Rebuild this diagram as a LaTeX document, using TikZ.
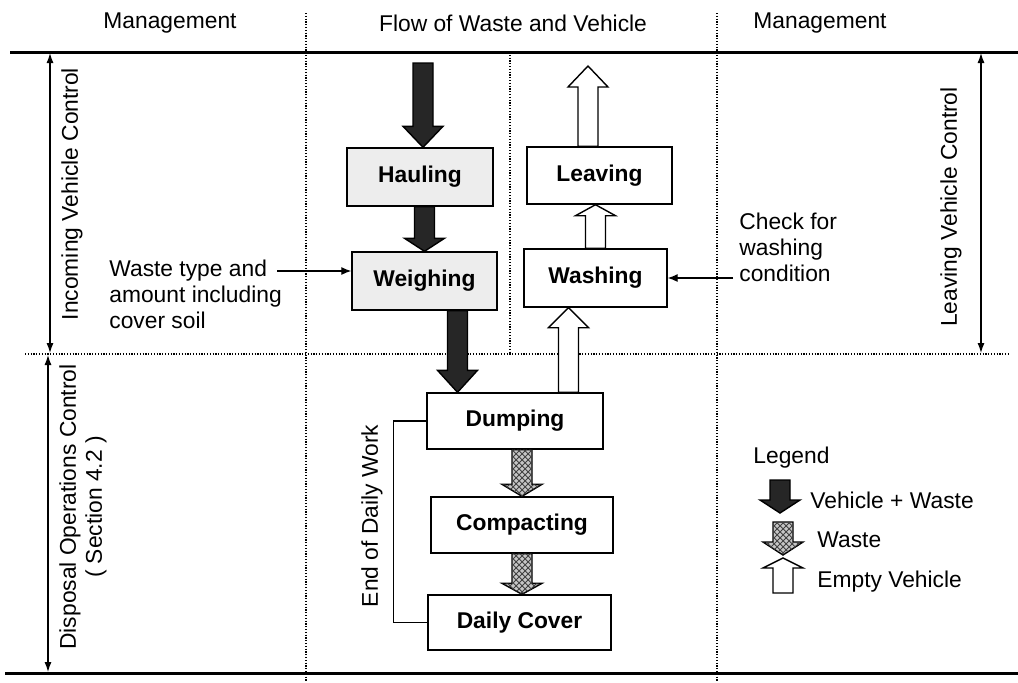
\documentclass[tikz,border=0pt]{standalone}
\usepackage{fontspec}
\setmainfont{Liberation Sans}
\usepackage{xcolor}
\usepackage{tikz}
\usetikzlibrary{arrows.meta,calc,patterns}

% block arrow: [style]{from}{to}{head length}
\newcommand\fatarrow[4][]{%
  \coordinate (fas) at (#2);
  \coordinate (fae) at (#3);
  \coordinate (fah) at ($(fae)!#4!(fas)$);
  \draw[#1] ($(fas)!5pt!90:(fae)$) -- ($(fah)!5pt!90:(fae)$)
    -- ($(fah)!10pt!90:(fae)$) -- (fae) -- ($(fah)!10pt!-90:(fae)$)
    -- ($(fah)!5pt!-90:(fae)$) -- ($(fas)!5pt!-90:(fae)$) -- cycle;
}

\begin{document}
\begin{tikzpicture}[
  x=0.5pt, y=-0.5pt,
  >=Latex,
  font=\fontsize{11.4}{13}\selectfont,
  box/.style={
    draw,
    line width=0.7pt,
    minimum width=72pt,
    minimum height=29pt,
    inner sep=2pt,
    font=\fontsize{11.4}{13}\selectfont\bfseries
  },
  greybox/.style={box, fill=gray!14},
  label/.style={inner sep=0pt, align=left},
  vehicle/.style={draw, line width=0.7pt, fill=black!85},
  waste/.style={draw, line width=0.7pt, fill=gray!45,
    postaction={pattern=crosshatch, pattern color=black!75}},
  empty/.style={draw, line width=0.7pt, fill=white},
  arrow/.style={->, line width=0.6pt, >={Latex[length=5pt,width=4pt]}},
  span/.style={<->, line width=0.6pt, >={Latex[length=5pt,width=3.5pt]}},
  sep/.style={line width=0.6pt, dash pattern=on 0.6pt off 0.8pt},
  rule/.style={line width=1.5pt}
]
  \useasboundingbox (0,0) rectangle (1018,682);

  % grid of the table
  \draw[rule] (10,52) -- (1018,52);
  \draw[rule] (5,673) -- (1018,673);
  \draw[sep] (306,13) -- (306,682);
  \draw[sep] (717,13) -- (717,682);
  \draw[sep] (510,52) -- (510,354);
  \draw[sep] (25,354) -- (1010,354);

  % headings
  \node (mgl) at (170,23) {Management};
  \node (flow) at (513,23) {Flow of Waste and Vehicle};
  \node (mgr) at (820,23) {Management};

  % left and right spans
  \coordinate (ltop) at (50,53);
  \coordinate (lmid) at (50,353);
  \coordinate (lmid2) at (48,355);
  \coordinate (lbot) at (48,672);
  \coordinate (rtop) at (981,53);
  \coordinate (rbot) at (981,353);
  \draw[span] (ltop) -- (lmid);
  \draw[span] (lmid2) -- (lbot);
  \draw[span] (rtop) -- (rbot);
  \node[rotate=90] (incoming) at (72,194) {Incoming Vehicle Control};
  \node[rotate=90, align=center, inner sep=0pt] (disposal) at (83,507)
    {Disposal Operations Control\\( Section 4.2 )};
  \node[rotate=90] (leaving) at (951,207) {Leaving Vehicle Control};

  % process boxes
  \node[greybox, minimum width=73pt] (haul) at (420,177) {Hauling};
  \node[greybox, minimum width=72.5pt] (weigh) at (424.5,281) {Weighing};
  \node[box, minimum width=72.5pt, minimum height=28.5pt] (leave) at (599.5,175.5) {Leaving};
  \node[box, minimum width=71.5pt] (wash) at (595.5,278) {Washing};
  \node[box, minimum width=88pt, minimum height=28pt] (dump) at (515,421) {Dumping};
  \node[box, minimum width=91pt, minimum height=28pt] (compact) at (522,525) {Compacting};
  \node[box, minimum width=91.5pt, minimum height=27.5pt] (cover) at (519.5,622.5) {Daily Cover};

  % side notes
  \node[label, anchor=west] (wtype) at (109,294)
    {Waste type and\\amount including\\cover soil};
  \coordinate (wtin) at (277,271);
  \draw[arrow] (wtin) -- (wtin -| weigh.west);
  \node[label, anchor=west] (check) at (739,247)
    {Check for\\washing\\condition};
  \draw[arrow] ([xshift=-3pt]check.west |- wash.east) -- (wash.east);

  % end of daily work
  \draw[line width=0.6pt] (dump.west) -- ++(-33,0) |- (cover.west);
  \node[rotate=90] (eod) at (372,516) {End of Daily Work};

  % flow arrows
  \coordinate (in) at (423,63);
  \fatarrow[vehicle]{in}{in |- haul.north}{10.5pt}
  \fatarrow[vehicle]{weigh.north |- haul.south}{weigh.north}{6.5pt}
  \coordinate (wd) at ($(weigh.south)+(33,0)$);
  \fatarrow[vehicle]{wd}{wd |- dump.north}{11pt}
  \coordinate (dw) at ($(wash.south)+(-27,0)$);
  \fatarrow[empty]{dw |- dump.north}{dw}{10pt}
  \fatarrow[empty]{wash.north}{wash.north |- leave.south}{5.5pt}
  \coordinate (out) at (588,66);
  \fatarrow[empty]{out |- leave.north}{out}{10.5pt}
  \fatarrow[waste]{compact.north |- dump.south}{compact.north}{6pt}
  \fatarrow[waste]{compact.south}{compact.south |- cover.north}{5.5pt}

  % legend
  \node[label, anchor=west] (legend) at (753,458) {Legend};
  \coordinate (lga) at (780,480);
  \coordinate (lgb) at (780,513);
  \coordinate (lgc) at (783,522);
  \coordinate (lgd) at (783,555);
  \coordinate (lge) at (783,593);
  \coordinate (lgf) at (783,558);
  \fatarrow[vehicle]{lga}{lgb}{6.5pt}
  \fatarrow[waste]{lgc}{lgd}{6.5pt}
  \fatarrow[empty]{lge}{lgf}{5pt}
  \node[label, anchor=west] (lgvw) at (810,500) {Vehicle + Waste};
  \node[label, anchor=west] (lgw) at (817,540) {Waste};
  \node[label, anchor=west] (lgev) at (817,582) {Empty Vehicle};
\end{tikzpicture}
\end{document}
